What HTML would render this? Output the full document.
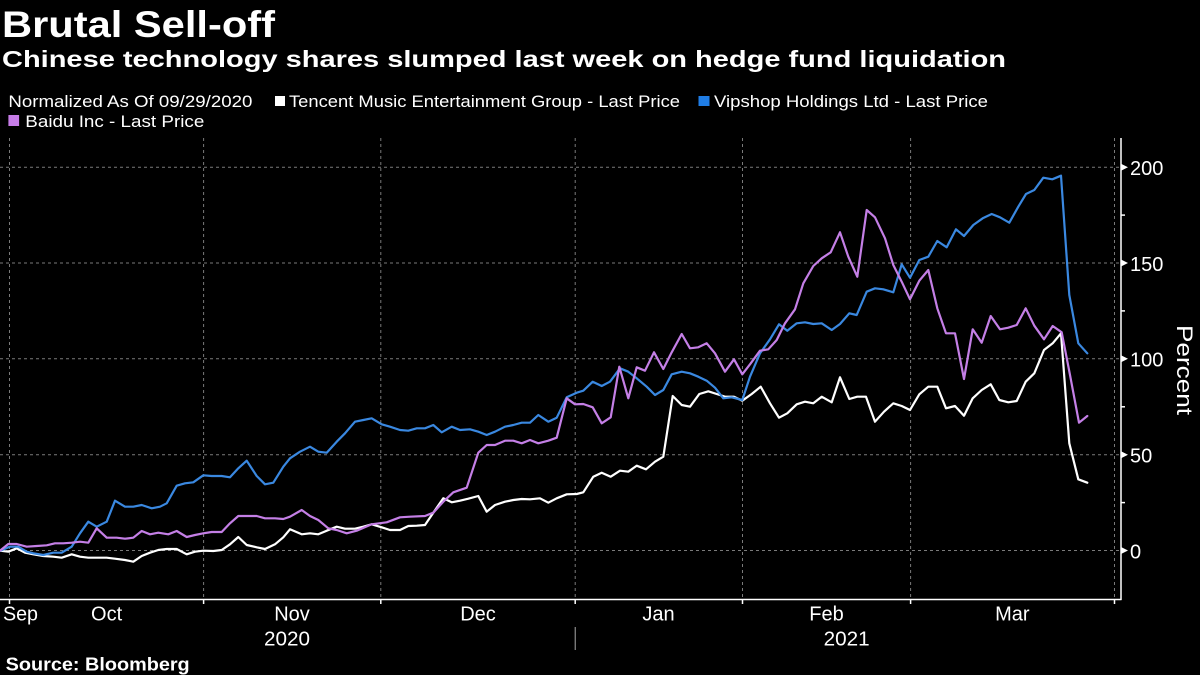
<!DOCTYPE html>
<html>
<head>
<meta charset="utf-8">
<style>
html,body{margin:0;padding:0;background:#000;}
svg{display:block;}
text{font-family:"Liberation Sans",sans-serif;fill:#fff;}
</style>
</head>
<body>
<svg width="1200" height="675" viewBox="0 0 1200 675" xmlns="http://www.w3.org/2000/svg">
<rect x="0" y="0" width="1200" height="675" fill="#000"/>

<!-- Titles -->
<text x="2" y="37" font-size="37" font-weight="bold" textLength="273" lengthAdjust="spacingAndGlyphs">Brutal Sell-off</text>
<text x="2" y="67" font-size="23" font-weight="bold" textLength="1004" lengthAdjust="spacingAndGlyphs">Chinese technology shares slumped last week on hedge fund liquidation</text>

<!-- Legend -->
<text x="8.4" y="107" font-size="17" textLength="244" lengthAdjust="spacingAndGlyphs" fill="#f0f0f0">Normalized As Of 09/29/2020</text>
<rect x="275" y="96" width="10" height="10" fill="#fff"/>
<text x="289" y="107" font-size="17" textLength="391" lengthAdjust="spacingAndGlyphs" fill="#f0f0f0">Tencent Music Entertainment Group - Last Price</text>
<rect x="698.5" y="96" width="11" height="10" fill="#1f7de6"/>
<text x="714" y="107" font-size="17" textLength="274" lengthAdjust="spacingAndGlyphs" fill="#f0f0f0">Vipshop Holdings Ltd - Last Price</text>
<rect x="8.4" y="115" width="10.7" height="11" fill="#c77de8"/>
<text x="25.3" y="127" font-size="17" textLength="179" lengthAdjust="spacingAndGlyphs" fill="#f0f0f0">Baidu Inc - Last Price</text>

<!-- Gridlines -->
<g stroke="#7a7a7a" stroke-width="1" stroke-dasharray="3,3" fill="none">
  <line x1="0" y1="550.5" x2="1121" y2="550.5"/>
  <line x1="0" y1="454.7" x2="1121" y2="454.7"/>
  <line x1="0" y1="358.8" x2="1121" y2="358.8"/>
  <line x1="0" y1="263" x2="1121" y2="263"/>
  <line x1="0" y1="167.2" x2="1121" y2="167.2"/>
  <line x1="9.5" y1="138" x2="9.5" y2="599"/>
  <line x1="203.6" y1="138" x2="203.6" y2="599"/>
  <line x1="380.8" y1="138" x2="380.8" y2="599"/>
  <line x1="575.2" y1="138" x2="575.2" y2="599"/>
  <line x1="742.5" y1="138" x2="742.5" y2="599"/>
  <line x1="910.6" y1="138" x2="910.6" y2="599"/>
  <line x1="1114.5" y1="138" x2="1114.5" y2="599"/>
</g>

<!-- Series -->
<g fill="none" stroke-width="2.2" stroke-linejoin="round" stroke-linecap="round">
<polyline stroke="#ffffff" points="0,550.7 8.3,551.7 16.7,548.3 25,552.7 33.3,554.3 43.3,556 53.3,556.7 61.7,557.7 71.7,554.3 80,556.7 88.3,557.7 96.7,557.7 106.7,557.7 115,558.7 125,560 133.3,561.7 141.7,556 150,552.7 158.3,550 166.7,549 176.7,549 186.7,554.3 195,551.7 203.3,550.7 213.3,551 221.7,550 230,544.3 238.3,537 246.7,545 256.7,547.3 265,549 275,544.3 283.3,537.3 290,529.3 301.7,534.3 310,533.3 318.3,534.3 326.7,530.7 336.7,526.7 345,528.7 355,528.7 363.3,526.7 371.7,524.3 381.7,527.3 390,530 400,530 408.3,526 416.7,525.7 425,525 433.3,512.7 443.3,498.3 451.7,502.3 460,500.7 468.3,498.7 478.3,496 486.7,511.7 495,505 505,501.7 513.3,500 521.7,499 530,499.3 540,498.3 548.3,502.7 556.7,498.3 566.7,494.3 576.7,494 583.3,492.3 593.3,476.7 601.7,472.7 610.7,476.7 620,470.7 628.3,471.7 636.7,465.7 646,469.3 655,461.7 663.3,456.7 672.7,396 681.7,405 690,406.7 699.3,394 708.3,391.3 716.7,394 725,396.7 734,396.7 742.3,400.7 751.7,394 760.7,386.7 770,403.3 779,417.7 787.3,413.3 796.7,404.3 805,401.7 813.3,403.3 821.7,396.7 831.7,402.3 840,377.3 849.3,399 857.3,396.7 866,396.7 875,421.7 884,411.7 893.3,403.3 901.7,406 910,410 919.3,394.3 928.3,386.7 937.3,386.7 946,408.3 955,406 964,415.7 972.7,398.3 981.7,390 990.7,384.3 999.3,400 1008.3,402.3 1016.7,401 1025.7,381.7 1034.3,373.3 1044,350 1052.7,343.3 1061,333.3 1069.3,443.3 1078.3,479.3 1087.3,482.7"/>
<polyline stroke="#3a88e0" points="0,550.7 10,546.7 18.3,546.7 26.7,551.7 33.3,553.3 43.3,555 53.3,552.7 61.7,552.7 71.7,546.7 80,533.3 88.3,521.7 96.7,526.7 106.7,521.7 115,500.7 125,506.7 133.3,506.7 141.7,505 151.7,508.3 160,506.7 166.7,503.3 176.7,485.7 185,483.3 193.3,482.3 203.3,475.3 211.7,476 221.7,476 230,477.3 238.3,468.3 246.7,460.7 256.7,476 265,484.3 273.3,482.7 283.3,466.7 290,458.3 300,451.7 310,446.7 318.3,451.7 326.7,452.7 336.7,441.7 345,433.3 355,421.7 363.3,420 371.7,418.3 381.7,424.3 390,426.7 400,430 408.3,430.7 416.7,428.3 425,428.3 433.3,425 441.7,432.3 451.7,426.7 460,430 470,429.3 478.3,431.7 486.7,435 495,431.7 505,426.7 513.3,425 521.7,422.7 530,422.7 538.3,415 548.3,421.7 556.7,417.7 566.7,397.3 576.7,392.7 583.3,390.7 592.7,381.7 601.7,386 610,381.7 620,368.3 628.3,371.7 636.7,378.3 646.7,386.7 655,395 663.3,390 671.7,374.3 681.7,371.7 690,373.3 698.3,376.7 706.7,380.7 715,387.7 723.3,398.3 731.7,397.3 742.3,400 750,376.7 760,353.3 770,339.3 779,324.3 787.3,330.7 796.7,323.3 805,322.3 813.3,324 821.7,323.3 831.7,330 840,324 849.3,313.3 856.7,315 866.7,291.7 875,288.3 883.3,289.3 893.3,292.3 901.7,264.3 910,277.7 919.3,260 928.3,256.7 937.3,241 946.7,247.3 956,229.3 964,236 973.3,225 982.7,218.3 991.7,214 1000,217.3 1009.3,222.7 1018.3,206.7 1026,194 1034.3,190 1043.3,177.7 1052.3,179.3 1061,175.7 1069.3,295 1078.3,343.3 1087.3,353.3"/>
<polyline stroke="#c47fe6" points="0,550.7 8.3,544 16.7,544 26.7,546.7 36.7,546 46.7,545.3 55,543.3 63.3,543.3 71.7,542.7 80,541.7 88.3,542.7 96.7,528.3 106.7,537.7 116.7,537.7 125,538.7 133.3,537.7 141.7,531 150,534.3 158.3,532.7 168.3,534.3 176.7,531 186.7,537 195,535 203.3,533.3 211.7,532 221.7,532 230,523.3 238.3,516 246.7,516 256.7,516 265,518.3 275,518.3 283.3,519 290,516.7 301.7,510 310,516 318.3,520 328.3,528.3 336.7,530 346.7,533.3 356.7,530.7 371.7,524.3 386.7,522.3 400,517.3 410,516.7 425,516 433.3,512.7 443.3,501.7 453.3,492.3 466.7,487.7 478.3,452.7 486.7,445 495,445 505,440.7 513.3,440.7 521.7,443.3 530,440 538.3,443.3 548.3,440.7 556.7,437.7 566.7,398.3 575,404.3 583.3,404 592.7,407.3 601.7,423.3 610.7,417.3 619.3,366.7 628.3,398.3 636.7,367.3 645,370.7 654,352.3 663.3,369 671.7,352.3 681.7,334 690,348.3 698.3,347.3 706.7,343.3 715,353.3 725,371.7 734,359.3 742.3,374.3 750,364.3 760,350.7 768.3,349.3 776.7,340 785,323.3 795,309.3 803.3,283.3 813.3,266 821.7,258.3 830.7,252.3 840,232.3 848.3,256.7 857.3,276.7 866.7,210 875,217.3 885,238.3 893.3,265 901.7,281.7 910,299.3 919.3,280.7 928.3,270 937.3,308.3 946,333.3 955,333.3 964,379 972.7,329.3 981.7,342.7 990.7,316 1000,329.3 1008.3,327.7 1016.7,325 1025.7,308.3 1034.3,325.7 1044,339.3 1052.7,326 1061.7,332.3 1070,375 1079,422.7 1087.3,416"/>
</g>

<!-- Axes -->
<g stroke="#ffffff" stroke-width="1.5" fill="none">
  <line x1="0" y1="599.5" x2="1121.5" y2="599.5"/>
  <line x1="1121" y1="138" x2="1121" y2="600"/>
  <line x1="1121" y1="502.6" x2="1125" y2="502.6"/>
  <line x1="1121" y1="406.8" x2="1125" y2="406.8"/>
  <line x1="1121" y1="310.9" x2="1125" y2="310.9"/>
  <line x1="1121" y1="215.1" x2="1125" y2="215.1"/>
  <line x1="9.5" y1="599" x2="9.5" y2="604"/>
  <line x1="203.6" y1="599" x2="203.6" y2="604"/>
  <line x1="380.8" y1="599" x2="380.8" y2="604"/>
  <line x1="575.2" y1="599" x2="575.2" y2="604"/>
  <line x1="742.5" y1="599" x2="742.5" y2="604"/>
  <line x1="910.6" y1="599" x2="910.6" y2="604"/>
  <line x1="1114.5" y1="599" x2="1114.5" y2="604"/>
</g>
<line x1="575.2" y1="627" x2="575.2" y2="650" stroke="#aaaaaa" stroke-width="1"/>
<g fill="#ffffff">
  <polygon points="1121,547 1128,550.5 1121,554"/>
  <polygon points="1121,451.2 1128,454.7 1121,458.2"/>
  <polygon points="1121,355.3 1128,358.8 1121,362.3"/>
  <polygon points="1121,259.5 1128,263 1121,266.5"/>
  <polygon points="1121,163.7 1128,167.2 1121,170.7"/>
</g>

<!-- Y labels -->
<g font-size="20">
  <text x="1130" y="175">200</text>
  <text x="1130" y="270.8">150</text>
  <text x="1130" y="366.6">100</text>
  <text x="1130" y="462.5">50</text>
  <text x="1130" y="558.3">0</text>
</g>
<text transform="translate(1177,370) rotate(90)" text-anchor="middle" font-size="22" textLength="90" lengthAdjust="spacingAndGlyphs">Percent</text>

<!-- X labels -->
<g font-size="20" fill="#f0f0f0">
  <text x="3" y="620.7" textLength="35" lengthAdjust="spacingAndGlyphs">Sep</text>
  <text x="106.6" y="620.7" text-anchor="middle">Oct</text>
  <text x="292" y="620.7" text-anchor="middle">Nov</text>
  <text x="478" y="620.7" text-anchor="middle">Dec</text>
  <text x="658.5" y="620.7" text-anchor="middle">Jan</text>
  <text x="826.5" y="620.7" text-anchor="middle">Feb</text>
  <text x="1012.3" y="620.7" text-anchor="middle">Mar</text>
  <text x="287" y="645.7" text-anchor="middle" textLength="46" lengthAdjust="spacingAndGlyphs">2020</text>
  <text x="846.6" y="645.7" text-anchor="middle" textLength="46" lengthAdjust="spacingAndGlyphs">2021</text>
</g>

<text x="5.7" y="670.5" font-size="18" font-weight="bold" textLength="184" lengthAdjust="spacingAndGlyphs">Source: Bloomberg</text>
</svg>
</body>
</html>
